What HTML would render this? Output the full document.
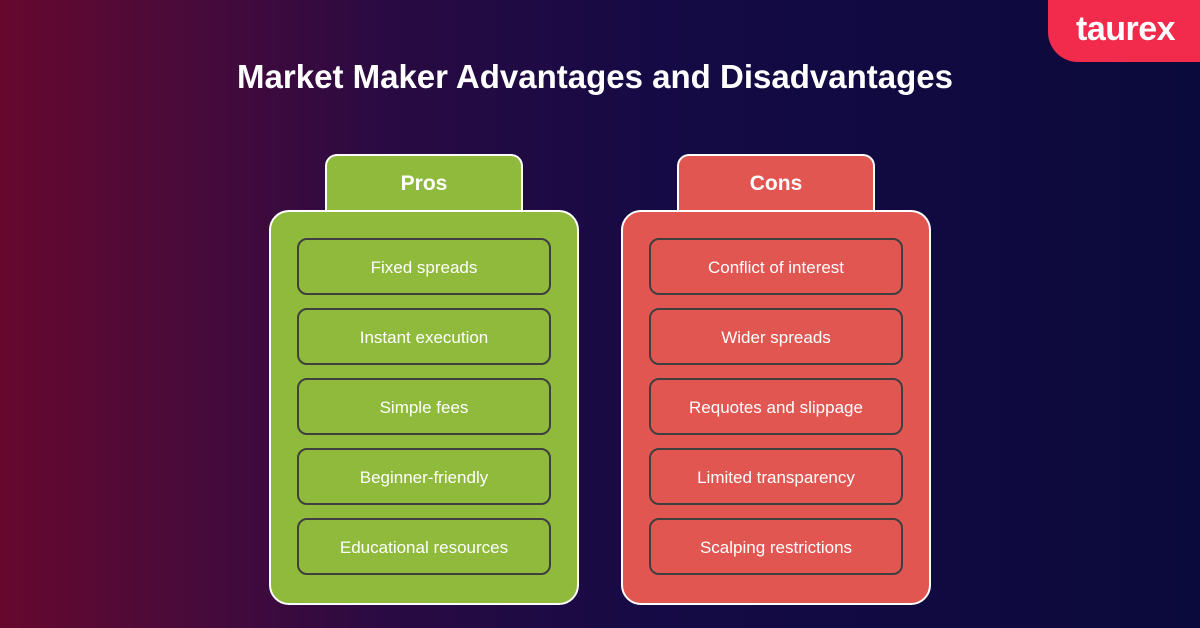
<!DOCTYPE html>
<html><head><style>
*{margin:0;padding:0;box-sizing:border-box}
body{width:1200px;height:628px;overflow:hidden;position:relative;font-family:"Liberation Sans",sans-serif;
background:linear-gradient(90deg,#66082e 0%,#4a0a3a 15%,#2a0a42 32%,#150a45 55%,#0b0a3c 100%);}
.logo{position:absolute;left:1048px;top:-2px;width:160px;height:64px;background:#f22a4c;border-bottom-left-radius:30px;color:#fff;font-weight:bold;font-size:34px;line-height:62px;padding-left:28px;letter-spacing:-0.5px}
h1{position:absolute;top:58px;left:0;width:1190px;text-align:center;color:#fff;font-size:33px;font-weight:bold}
.tab{position:absolute;top:154px;width:198px;height:60px;border:2px solid #fff;border-bottom:none;border-radius:12px 12px 0 0;color:#fff;font-weight:bold;font-size:21px;text-align:center;line-height:56px}
.box{position:absolute;top:210px;width:310px;height:395px;border:2px solid #fff;border-radius:20px}
.it{position:absolute;left:26px;width:254px;height:57px;border:2px solid #3f3f3f;border-radius:10px;color:#fff;font-size:17px;text-align:center;line-height:55px}
.g{background:#8fba3c}.r{background:#e25652}
</style></head><body>
<div class="logo">taurex</div>
<h1>Market Maker Advantages and Disadvantages</h1>
<div class="tab g" style="left:325px">Pros</div>
<div class="box g" style="left:269px">
<div class="it g" style="top:26px">Fixed spreads</div>
<div class="it g" style="top:96px">Instant execution</div>
<div class="it g" style="top:166px">Simple fees</div>
<div class="it g" style="top:236px">Beginner-friendly</div>
<div class="it g" style="top:306px">Educational resources</div>
</div>
<div class="tab r" style="left:677px">Cons</div>
<div class="box r" style="left:621px">
<div class="it r" style="top:26px">Conflict of interest</div>
<div class="it r" style="top:96px">Wider spreads</div>
<div class="it r" style="top:166px">Requotes and slippage</div>
<div class="it r" style="top:236px">Limited transparency</div>
<div class="it r" style="top:306px">Scalping restrictions</div>
</div>
</body></html>
